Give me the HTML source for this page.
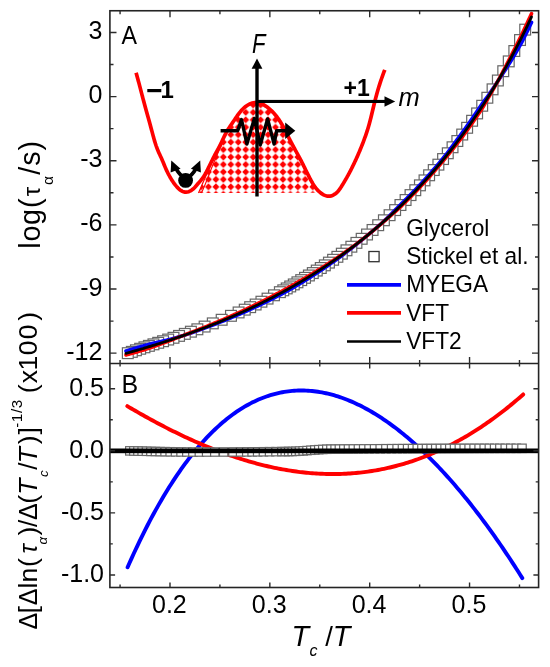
<!DOCTYPE html>
<html><head><meta charset="utf-8"><style>
html,body{margin:0;padding:0;background:#fff;width:550px;height:667px;overflow:hidden;font-family:"Liberation Sans",sans-serif;}
svg{display:block;will-change:transform;}
</style></head><body>
<svg width="550" height="667" viewBox="0 0 550 667">
<rect width="550" height="667" fill="#fff"/>
<defs>
<pattern id="chk" patternUnits="userSpaceOnUse" x="227.08" y="160.78" width="7.45" height="7.45"><polygon points="3.73,0.27 7.18,3.73 3.73,7.18 0.27,3.73" fill="#ff0000"/><circle cx="3.73" cy="3.73" r="2.15" fill="#ff0000"/></pattern>
</defs>
<path d="M198.5,193 L201.5,186 L205,178 L209,168.5 L213.5,158 L218,148.5 L222,141 L222.77,139.58 L223.31,138.41 L223.86,137.24 L224.42,136.08 L224.99,134.93 L225.58,133.79 L226.19,132.66 L226.82,131.54 L227.48,130.43 L228.15,129.33 L228.84,128.25 L229.54,127.17 L230.25,126.09 L230.97,125.02 L231.69,123.95 L232.42,122.89 L233.16,121.82 L233.88,120.76 L234.61,119.69 L235.33,118.62 L236.05,117.55 L236.78,116.48 L237.52,115.43 L238.26,114.38 L239.03,113.34 L239.82,112.33 L240.64,111.33 L241.49,110.36 L242.37,109.42 L243.29,108.5 L244.26,107.62 L245.28,106.78 L246.35,105.97 L247.46,105.23 L248.62,104.55 L249.81,103.94 L251.02,103.43 L252.26,103.02 L253.52,102.72 L254.78,102.54 L256.06,102.5 L257.33,102.6 L258.6,102.84 L259.85,103.19 L261.08,103.63 L262.29,104.15 L263.46,104.74 L264.59,105.38 L265.69,106.06 L266.75,106.79 L267.78,107.56 L268.79,108.36 L269.77,109.2 L270.73,110.06 L271.66,110.95 L272.57,111.86 L273.46,112.8 L274.33,113.76 L275.17,114.74 L275.99,115.74 L276.79,116.75 L277.57,117.79 L278.33,118.83 L279.06,119.9 L279.78,120.97 L280.47,122.06 L281.15,123.16 L281.8,124.26 L282.45,125.38 L283.07,126.5 L283.69,127.63 L284.29,128.77 L284.89,129.91 L285.48,131.06 L286.06,132.21 L286.64,133.37 L287.21,134.52 L287.78,135.68 L288.35,136.83 L288.93,137.99 L289.51,139.14 L290.09,140.29 L290.68,141.44 L291.28,142.58 L291.88,143.72 L292.48,144.86 L293.1,146 L293.71,147.13 L294.33,148.26 L294.95,149.39 L295.57,150.52 L296.2,151.64 L296.82,152.77 L297.44,153.9 L298.06,155.03 L298.67,156.16 L299.29,157.29 L299.89,158.43 L300.5,159.57 L301.09,160.71 L301.68,161.85 L302.27,163 L302.84,164.15 L303.42,165.3 L303.99,166.46 L304.55,167.61 L305.12,168.77 L305.68,169.93 L306.25,171.08 L306.82,172.24 L307.39,173.4 L307.96,174.55 L308.54,175.7 L309.13,176.85 L309.72,177.99 L310.33,179.13 L310.94,180.27 L311.56,181.4 L312.2,182.52 L312.85,183.64 L313.53,184.73 L314.24,185.81 L314.98,186.87 L315.75,187.9 L316.5,192.8 Z" fill="url(#chk)" stroke="none"/>
<path d="M198.5,193 L201.5,186 L205,178 L209,168.5 L213.5,158 L218,148.5 L222,141" fill="none" stroke="#ff0000" stroke-width="1.2"/>
<path d="M201.5,193 L204.3,186.5 L207.6,178.5 L211.2,169 L215.3,159 L219.5,149.5 L223,142" fill="none" stroke="#ff0000" stroke-width="1.1"/>
<path d="M136.1,72.7 L136.45,73.94 L136.79,75.18 L137.13,76.42 L137.47,77.67 L137.81,78.91 L138.14,80.16 L138.48,81.4 L138.81,82.64 L139.14,83.89 L139.47,85.14 L139.79,86.38 L140.12,87.63 L140.45,88.87 L140.77,90.12 L141.1,91.37 L141.42,92.61 L141.75,93.86 L142.07,95.11 L142.4,96.35 L142.72,97.6 L143.05,98.85 L143.38,100.09 L143.71,101.34 L144.04,102.58 L144.38,103.83 L144.71,105.07 L145.05,106.31 L145.39,107.56 L145.73,108.8 L146.07,110.04 L146.42,111.28 L146.77,112.52 L147.12,113.76 L147.47,115 L147.82,116.24 L148.18,117.48 L148.53,118.72 L148.88,119.96 L149.23,121.2 L149.57,122.44 L149.91,123.68 L150.25,124.92 L150.58,126.17 L150.91,127.41 L151.24,128.66 L151.57,129.9 L151.9,131.15 L152.23,132.39 L152.56,133.64 L152.89,134.89 L153.22,136.13 L153.57,137.37 L153.91,138.62 L154.26,139.86 L154.63,141.1 L155,142.33 L155.38,143.56 L155.78,144.79 L156.19,146.01 L156.63,147.22 L157.08,148.43 L157.55,149.63 L158.04,150.82 L158.55,152 L159.08,153.17 L159.62,154.34 L160.16,155.51 L160.71,156.68 L161.24,157.85 L161.77,159.03 L162.28,160.21 L162.78,161.4 L163.27,162.58 L163.76,163.78 L164.25,164.97 L164.74,166.16 L165.24,167.35 L165.75,168.53 L166.27,169.71 L166.81,170.89 L167.37,172.05 L167.95,173.21 L168.55,174.36 L169.16,175.5 L169.79,176.63 L170.43,177.74 L171.09,178.84 L171.76,179.93 L172.44,181 L173.14,182.06 L173.87,183.1 L174.63,184.13 L175.42,185.15 L176.26,186.15 L177.15,187.14 L178.1,188.12 L179.1,189.06 L180.15,189.93 L181.25,190.71 L182.39,191.35 L183.57,191.84 L184.79,192.13 L186.03,192.2 L187.29,192.05 L188.55,191.7 L189.78,191.19 L190.96,190.55 L192.06,189.81 L193.09,189 L194.04,188.12 L194.94,187.2 L195.8,186.25 L196.64,185.28 L197.47,184.3 L198.31,183.32 L199.16,182.34 L199.99,181.36 L200.82,180.37 L201.62,179.36 L202.4,178.33 L203.15,177.29 L203.86,176.22 L204.54,175.13 L205.2,174.02 L205.83,172.89 L206.44,171.75 L207.04,170.61 L207.62,169.46 L208.2,168.3 L208.78,167.15 L209.35,165.99 L209.92,164.84 L210.48,163.68 L211.05,162.52 L211.62,161.36 L212.19,160.21 L212.76,159.06 L213.34,157.91 L213.92,156.76 L214.52,155.62 L215.12,154.48 L215.73,153.35 L216.34,152.22 L216.96,151.09 L217.58,149.96 L218.2,148.82 L218.81,147.69 L219.41,146.55 L220,145.4 L220.57,144.25 L221.13,143.09 L221.68,141.92 L222.22,140.75 L222.77,139.58 L223.31,138.41 L223.86,137.24 L224.42,136.08 L224.99,134.93 L225.58,133.79 L226.19,132.66 L226.82,131.54 L227.48,130.43 L228.15,129.33 L228.84,128.25 L229.54,127.17 L230.25,126.09 L230.97,125.02 L231.69,123.95 L232.42,122.89 L233.16,121.82 L233.88,120.76 L234.61,119.69 L235.33,118.62 L236.05,117.55 L236.78,116.48 L237.52,115.43 L238.26,114.38 L239.03,113.34 L239.82,112.33 L240.64,111.33 L241.49,110.36 L242.37,109.42 L243.29,108.5 L244.26,107.62 L245.28,106.78 L246.35,105.97 L247.46,105.23 L248.62,104.55 L249.81,103.94 L251.02,103.43 L252.26,103.02 L253.52,102.72 L254.78,102.54 L256.06,102.5 L257.33,102.6 L258.6,102.84 L259.85,103.19 L261.08,103.63 L262.29,104.15 L263.46,104.74 L264.59,105.38 L265.69,106.06 L266.75,106.79 L267.78,107.56 L268.79,108.36 L269.77,109.2 L270.73,110.06 L271.66,110.95 L272.57,111.86 L273.46,112.8 L274.33,113.76 L275.17,114.74 L275.99,115.74 L276.79,116.75 L277.57,117.79 L278.33,118.83 L279.06,119.9 L279.78,120.97 L280.47,122.06 L281.15,123.16 L281.8,124.26 L282.45,125.38 L283.07,126.5 L283.69,127.63 L284.29,128.77 L284.89,129.91 L285.48,131.06 L286.06,132.21 L286.64,133.37 L287.21,134.52 L287.78,135.68 L288.35,136.83 L288.93,137.99 L289.51,139.14 L290.09,140.29 L290.68,141.44 L291.28,142.58 L291.88,143.72 L292.48,144.86 L293.1,146 L293.71,147.13 L294.33,148.26 L294.95,149.39 L295.57,150.52 L296.2,151.64 L296.82,152.77 L297.44,153.9 L298.06,155.03 L298.67,156.16 L299.29,157.29 L299.89,158.43 L300.5,159.57 L301.09,160.71 L301.68,161.85 L302.27,163 L302.84,164.15 L303.42,165.3 L303.99,166.46 L304.55,167.61 L305.12,168.77 L305.68,169.93 L306.25,171.08 L306.82,172.24 L307.39,173.4 L307.96,174.55 L308.54,175.7 L309.13,176.85 L309.72,177.99 L310.33,179.13 L310.94,180.27 L311.56,181.4 L312.2,182.52 L312.85,183.64 L313.53,184.73 L314.24,185.81 L314.98,186.87 L315.75,187.9 L316.56,188.91 L317.42,189.88 L318.32,190.82 L319.27,191.72 L320.28,192.59 L321.35,193.4 L322.47,194.15 L323.64,194.82 L324.84,195.38 L326.07,195.81 L327.32,196.09 L328.59,196.2 L329.86,196.13 L331.12,195.86 L332.36,195.44 L333.56,194.88 L334.69,194.21 L335.75,193.44 L336.72,192.6 L337.63,191.68 L338.48,190.71 L339.28,189.69 L340.04,188.64 L340.77,187.56 L341.47,186.46 L342.17,185.36 L342.85,184.25 L343.53,183.14 L344.19,182.03 L344.85,180.92 L345.5,179.8 L346.15,178.68 L346.78,177.56 L347.41,176.44 L348.03,175.31 L348.64,174.18 L349.25,173.05 L349.85,171.92 L350.44,170.78 L351.03,169.64 L351.61,168.49 L352.18,167.34 L352.75,166.19 L353.32,165.04 L353.87,163.88 L354.43,162.72 L354.98,161.55 L355.52,160.39 L356.06,159.22 L356.59,158.04 L357.12,156.87 L357.64,155.69 L358.16,154.51 L358.67,153.32 L359.18,152.14 L359.68,150.95 L360.17,149.76 L360.66,148.56 L361.15,147.37 L361.63,146.17 L362.11,144.97 L362.58,143.77 L363.04,142.57 L363.5,141.36 L363.96,140.15 L364.4,138.94 L364.84,137.73 L365.27,136.52 L365.7,135.3 L366.12,134.08 L366.53,132.86 L366.93,131.64 L367.33,130.41 L367.71,129.18 L368.09,127.95 L368.46,126.72 L368.82,125.48 L369.17,124.24 L369.51,123 L369.84,121.76 L370.17,120.51 L370.49,119.27 L370.81,118.02 L371.12,116.77 L371.42,115.52 L371.72,114.26 L372.02,113.01 L372.32,111.76 L372.62,110.5 L372.92,109.25 L373.21,107.99 L373.51,106.74 L373.81,105.49 L374.12,104.23 L374.43,102.98 L374.74,101.73 L375.06,100.48 L375.38,99.23 L375.71,97.99 L376.04,96.74 L376.38,95.5 L376.72,94.26 L377.06,93.02 L377.42,91.78 L377.77,90.54 L378.14,89.3 L378.51,88.07 L378.88,86.84 L379.26,85.6 L379.65,84.38 L380.04,83.15 L380.44,81.92 L380.85,80.7 L381.26,79.48 L381.68,78.26 L382.1,77.05 L382.53,75.83 L382.97,74.62 L383.42,73.41 L383.87,72.21 L384.33,71 L384.8,69.8" fill="none" stroke="#ff0000" stroke-width="3.7" stroke-linecap="butt"/>
<g fill="#000" stroke="none">
<rect x="255.3" y="67" width="3.4" height="129.5"/>
<polygon points="257,58.6 262.4,68.8 251.6,68.8"/>
<rect x="257" y="99.9" width="128" height="3.1"/>
<polygon points="395.2,101.5 384.5,96.2 384.5,106.8"/>
</g>
<path d="M220.6,130.7 L237.7,130.7 L241.5,119.5 L246.9,144 L254.4,118.5 L260.2,145 L267.6,119 L274.1,144 L276.7,130.7 L286.5,130.7" fill="none" stroke="#000" stroke-width="3.4" stroke-linejoin="round"/>
<polygon points="285.2,122.6 295.3,130.7 285.2,139" fill="#000"/>
<circle cx="185.6" cy="180.4" r="7.4" fill="#000"/>
<path d="M183,177 Q177,172 176,167.5 M189,177 Q195,172 196,167.5" fill="none" stroke="#000" stroke-width="3.6"/>
<polygon points="171.3,160.4 170.6,172.6 180.6,168.8" fill="#000"/>
<polygon points="200.2,160.4 200.9,172.6 190.9,168.8" fill="#000"/>
<text transform="translate(252,52.6) scale(0.8,1)" x="0" y="0" font-family="Liberation Sans" font-style="italic" font-size="27.6">F</text>
<text x="398.6" y="105.6" font-family="Liberation Sans" font-style="italic" font-size="25.5">m</text>
<rect x="147.3" y="89" width="14" height="3.2" fill="#000"/>
<text x="160.5" y="98.2" font-family="Liberation Sans" font-weight="bold" font-size="24">1</text>
<text x="343.5" y="95.6" font-family="Liberation Sans" font-weight="bold" font-size="23">+1</text>
<g fill="#fff" stroke="#666" stroke-width="1.2"><rect x="519.8" y="24.24" width="10.8" height="10.8"/><rect x="514.62" y="34.64" width="10.8" height="10.8"/><rect x="508.93" y="45.62" width="10.8" height="10.8"/><rect x="503.35" y="55.99" width="10.8" height="10.8"/><rect x="497.86" y="65.8" width="10.8" height="10.8"/><rect x="492.47" y="75.1" width="10.8" height="10.8"/><rect x="487.17" y="83.94" width="10.8" height="10.8"/><rect x="481.95" y="92.34" width="10.8" height="10.8"/><rect x="476.8" y="100.36" width="10.8" height="10.8"/><rect x="471.72" y="108.02" width="10.8" height="10.8"/><rect x="466.7" y="115.36" width="10.8" height="10.8"/><rect x="461.73" y="122.39" width="10.8" height="10.8"/><rect x="456.81" y="129.15" width="10.8" height="10.8"/><rect x="451.95" y="135.63" width="10.8" height="10.8"/><rect x="447.14" y="141.87" width="10.8" height="10.8"/><rect x="442.38" y="147.87" width="10.8" height="10.8"/><rect x="437.67" y="153.66" width="10.8" height="10.8"/><rect x="432.99" y="159.25" width="10.8" height="10.8"/><rect x="428.34" y="164.65" width="10.8" height="10.8"/><rect x="423.72" y="169.89" width="10.8" height="10.8"/><rect x="419.12" y="174.98" width="10.8" height="10.8"/><rect x="414.52" y="179.94" width="10.8" height="10.8"/><rect x="409.88" y="184.82" width="10.8" height="10.8"/><rect x="405.12" y="189.7" width="10.8" height="10.8"/><rect x="400.19" y="194.63" width="10.8" height="10.8"/><rect x="395.06" y="199.62" width="10.8" height="10.8"/><rect x="389.72" y="204.69" width="10.8" height="10.8"/><rect x="384.18" y="209.8" width="10.8" height="10.8"/><rect x="378.5" y="214.87" width="10.8" height="10.8"/><rect x="372.81" y="219.81" width="10.8" height="10.8"/><rect x="367.17" y="224.57" width="10.8" height="10.8"/><rect x="361.65" y="229.1" width="10.8" height="10.8"/><rect x="356.27" y="233.39" width="10.8" height="10.8"/><rect x="351.03" y="237.47" width="10.8" height="10.8"/><rect x="345.95" y="241.31" width="10.8" height="10.8"/><rect x="341.08" y="244.92" width="10.8" height="10.8"/><rect x="336.43" y="248.27" width="10.8" height="10.8"/><rect x="331.99" y="251.42" width="10.8" height="10.8"/><rect x="327.7" y="254.38" width="10.8" height="10.8"/><rect x="323.53" y="257.22" width="10.8" height="10.8"/><rect x="319.42" y="259.95" width="10.8" height="10.8"/><rect x="315.37" y="262.6" width="10.8" height="10.8"/><rect x="311.36" y="265.16" width="10.8" height="10.8"/><rect x="307.4" y="267.66" width="10.8" height="10.8"/><rect x="303.49" y="270.08" width="10.8" height="10.8"/><rect x="299.62" y="272.43" width="10.8" height="10.8"/><rect x="295.8" y="274.71" width="10.8" height="10.8"/><rect x="292.05" y="276.91" width="10.8" height="10.8"/><rect x="288.38" y="279.03" width="10.8" height="10.8"/><rect x="284.8" y="281.06" width="10.8" height="10.8"/><rect x="281.31" y="283.02" width="10.8" height="10.8"/><rect x="277.88" y="284.91" width="10.8" height="10.8"/><rect x="274.48" y="286.76" width="10.8" height="10.8"/><rect x="268.58" y="289.89" width="10.8" height="10.8"/><rect x="262.16" y="293.21" width="10.8" height="10.8"/><rect x="256.03" y="296.3" width="10.8" height="10.8"/><rect x="250.25" y="299.13" width="10.8" height="10.8"/><rect x="244.75" y="301.76" width="10.8" height="10.8"/><rect x="239.35" y="304.27" width="10.8" height="10.8"/><rect x="233.21" y="307.06" width="10.8" height="10.8"/><rect x="225.57" y="310.43" width="10.8" height="10.8"/><rect x="216.27" y="314.37" width="10.8" height="10.8"/><rect x="207.39" y="317.97" width="10.8" height="10.8"/><rect x="199.22" y="321.17" width="10.8" height="10.8"/><rect x="191.97" y="323.91" width="10.8" height="10.8"/><rect x="185.5" y="326.29" width="10.8" height="10.8"/><rect x="179.42" y="328.46" width="10.8" height="10.8"/><rect x="173.64" y="330.48" width="10.8" height="10.8"/><rect x="168.09" y="332.37" width="10.8" height="10.8"/><rect x="162.77" y="334.15" width="10.8" height="10.8"/><rect x="157.67" y="335.82" width="10.8" height="10.8"/><rect x="152.78" y="337.39" width="10.8" height="10.8"/><rect x="148.06" y="338.93" width="10.8" height="10.8"/><rect x="143.5" y="340.44" width="10.8" height="10.8"/><rect x="139.06" y="341.91" width="10.8" height="10.8"/><rect x="134.75" y="343.34" width="10.8" height="10.8"/><rect x="130.54" y="344.88" width="10.8" height="10.8"/><rect x="126.43" y="346.46" width="10.8" height="10.8"/><rect x="122.4" y="347.78" width="10.8" height="10.8"/></g>
<path d="M126,351.08 L127.36,350.64 L128.71,350.21 L130.07,349.79 L131.42,349.37 L132.78,348.96 L134.14,348.54 L135.49,348.14 L136.85,347.73 L138.21,347.33 L139.56,346.93 L140.92,346.53 L142.27,346.13 L143.63,345.74 L144.99,345.36 L146.34,344.99 L147.7,344.64 L149.06,344.29 L150.41,343.95 L151.77,343.62 L153.12,343.3 L154.48,342.98 L155.84,342.66 L157.19,342.35 L158.55,342.04 L159.9,341.73 L161.26,341.42 L162.62,341.11 L163.97,340.79 L165.33,340.47 L166.69,340.14 L168.04,339.81 L169.4,339.47 L170.75,339.13 L172.11,338.77 L173.47,338.4 L174.82,338.02 L176.18,337.63 L177.54,337.24 L178.89,336.84 L180.25,336.44 L181.6,336.04 L182.96,335.63 L184.32,335.21 L185.67,334.79 L187.03,334.35 L188.38,333.91 L189.74,333.46 L191.1,333 L192.45,332.54 L193.81,332.07 L195.17,331.59 L196.52,331.11 L197.88,330.63 L199.23,330.15 L200.59,329.65 L201.95,329.16 L203.3,328.66 L204.66,328.16 L206.02,327.65 L207.37,327.14 L208.73,326.63 L210.08,326.11 L211.44,325.59 L212.8,325.07 L214.15,324.54 L215.51,324.01 L216.86,323.48 L218.22,322.94 L219.58,322.4 L220.93,321.86 L222.29,321.32 L223.65,320.77 L225,320.22 L226.36,319.67 L227.71,319.11 L229.07,318.55 L230.43,317.99 L231.78,317.43 L233.14,316.86 L234.49,316.29 L235.85,315.72 L237.21,315.15 L238.56,314.57 L239.92,313.99 L241.28,313.41 L242.63,312.82 L243.99,312.23 L245.34,311.63 L246.7,311.03 L248.06,310.43 L249.41,309.82 L250.77,309.21 L252.13,308.6 L253.48,307.98 L254.84,307.35 L256.19,306.72 L257.55,306.08 L258.91,305.44 L260.26,304.8 L261.62,304.15 L262.97,303.49 L264.33,302.84 L265.69,302.18 L267.04,301.51 L268.4,300.84 L269.76,300.17 L271.11,299.49 L272.47,298.81 L273.82,298.12 L275.18,297.42 L276.54,296.72 L277.89,296.02 L279.25,295.31 L280.61,294.6 L281.96,293.88 L283.32,293.15 L284.67,292.41 L286.03,291.68 L287.39,290.93 L288.74,290.18 L290.1,289.42 L291.45,288.65 L292.81,287.88 L294.17,287.09 L295.52,286.31 L296.88,285.51 L298.24,284.71 L299.59,283.9 L300.95,283.08 L302.3,282.26 L303.66,281.43 L305.02,280.59 L306.37,279.75 L307.73,278.9 L309.09,278.04 L310.44,277.18 L311.8,276.32 L313.15,275.45 L314.51,274.57 L315.87,273.69 L317.22,272.8 L318.58,271.91 L319.93,271.01 L321.29,270.11 L322.65,269.2 L324,268.28 L325.36,267.35 L326.72,266.42 L328.07,265.49 L329.43,264.54 L330.78,263.59 L332.14,262.63 L333.5,261.67 L334.85,260.69 L336.21,259.72 L337.57,258.73 L338.92,257.74 L340.28,256.74 L341.63,255.74 L342.99,254.73 L344.35,253.71 L345.7,252.68 L347.06,251.65 L348.41,250.62 L349.77,249.57 L351.13,248.52 L352.48,247.47 L353.84,246.41 L355.2,245.34 L356.55,244.26 L357.91,243.18 L359.26,242.09 L360.62,241 L361.98,239.9 L363.33,238.79 L364.69,237.68 L366.05,236.57 L367.4,235.44 L368.76,234.31 L370.11,233.18 L371.47,232.04 L372.83,230.89 L374.18,229.73 L375.54,228.57 L376.89,227.4 L378.25,226.22 L379.61,225.02 L380.96,223.82 L382.32,222.61 L383.68,221.38 L385.03,220.14 L386.39,218.88 L387.74,217.57 L389.1,216.23 L390.46,214.87 L391.81,213.49 L393.17,212.1 L394.53,210.7 L395.88,209.31 L397.24,207.93 L398.59,206.56 L399.95,205.22 L401.31,203.89 L402.66,202.55 L404.02,201.21 L405.37,199.85 L406.73,198.49 L408.09,197.12 L409.44,195.75 L410.8,194.36 L412.16,192.96 L413.51,191.56 L414.87,190.14 L416.22,188.72 L417.58,187.29 L418.94,185.84 L420.29,184.39 L421.65,182.92 L423.01,181.45 L424.36,179.96 L425.72,178.46 L427.07,176.95 L428.43,175.43 L429.79,173.9 L431.14,172.36 L432.5,170.8 L433.85,169.23 L435.21,167.65 L436.57,166.05 L437.92,164.45 L439.28,162.83 L440.64,161.19 L441.99,159.54 L443.35,157.88 L444.7,156.2 L446.06,154.5 L447.42,152.75 L448.77,150.97 L450.13,149.15 L451.48,147.32 L452.84,145.47 L454.2,143.61 L455.55,141.75 L456.91,139.9 L458.27,138.06 L459.62,136.22 L460.98,134.37 L462.33,132.5 L463.69,130.62 L465.05,128.73 L466.4,126.82 L467.76,124.9 L469.12,122.97 L470.47,121.02 L471.83,119.06 L473.18,117.08 L474.54,115.1 L475.9,113.09 L477.25,111.07 L478.61,109.04 L479.96,107 L481.32,105 L482.68,103.09 L484.03,101.23 L485.39,99.41 L486.75,97.58 L488.1,95.71 L489.46,93.77 L490.81,91.79 L492.17,89.78 L493.53,87.76 L494.88,85.72 L496.24,83.66 L497.6,81.61 L498.95,79.55 L500.31,77.49 L501.66,75.43 L503.02,73.36 L504.38,71.28 L505.73,69.18 L507.09,67.05 L508.44,64.9 L509.8,62.72 L511.16,60.5 L512.51,58.24 L513.87,55.97 L515.23,53.7 L516.58,51.41 L517.94,49.09 L519.29,46.72 L520.65,44.3 L522.01,41.79 L523.36,39.21 L524.72,36.52 L526.08,33.75 L527.43,30.94 L528.79,28.11 L530.14,25.26 L531.5,22.37" fill="none" stroke="#0000ff" stroke-width="3.6" stroke-linecap="round"/>
<path d="M126,354.98 L127.36,354.6 L128.71,354.22 L130.07,353.84 L131.42,353.46 L132.78,353.07 L134.14,352.69 L135.49,352.3 L136.85,351.91 L138.21,351.52 L139.56,351.12 L140.92,350.73 L142.27,350.33 L143.63,349.92 L144.99,349.5 L146.34,349.07 L147.7,348.63 L149.06,348.18 L150.41,347.72 L151.77,347.26 L153.12,346.79 L154.48,346.31 L155.84,345.82 L157.19,345.33 L158.55,344.83 L159.9,344.33 L161.26,343.82 L162.62,343.32 L163.97,342.8 L165.33,342.29 L166.69,341.77 L168.04,341.26 L169.4,340.74 L170.75,340.23 L172.11,339.71 L173.47,339.2 L174.82,338.68 L176.18,338.17 L177.54,337.66 L178.89,337.15 L180.25,336.63 L181.6,336.11 L182.96,335.58 L184.32,335.06 L185.67,334.54 L187.03,334.02 L188.38,333.49 L189.74,332.97 L191.1,332.45 L192.45,331.93 L193.81,331.41 L195.17,330.88 L196.52,330.35 L197.88,329.82 L199.23,329.29 L200.59,328.76 L201.95,328.22 L203.3,327.68 L204.66,327.14 L206.02,326.6 L207.37,326.05 L208.73,325.51 L210.08,324.95 L211.44,324.4 L212.8,323.84 L214.15,323.28 L215.51,322.72 L216.86,322.16 L218.22,321.59 L219.58,321.02 L220.93,320.44 L222.29,319.87 L223.65,319.29 L225,318.7 L226.36,318.11 L227.71,317.52 L229.07,316.93 L230.43,316.33 L231.78,315.73 L233.14,315.12 L234.49,314.51 L235.85,313.9 L237.21,313.28 L238.56,312.66 L239.92,312.04 L241.28,311.41 L242.63,310.78 L243.99,310.15 L245.34,309.51 L246.7,308.87 L248.06,308.22 L249.41,307.58 L250.77,306.93 L252.13,306.27 L253.48,305.62 L254.84,304.96 L256.19,304.3 L257.55,303.63 L258.91,302.96 L260.26,302.29 L261.62,301.62 L262.97,300.94 L264.33,300.26 L265.69,299.57 L267.04,298.88 L268.4,298.19 L269.76,297.49 L271.11,296.79 L272.47,296.08 L273.82,295.37 L275.18,294.65 L276.54,293.94 L277.89,293.21 L279.25,292.49 L280.61,291.75 L281.96,291.02 L283.32,290.28 L284.67,289.53 L286.03,288.79 L287.39,288.03 L288.74,287.28 L290.1,286.52 L291.45,285.75 L292.81,284.99 L294.17,284.22 L295.52,283.45 L296.88,282.68 L298.24,281.9 L299.59,281.12 L300.95,280.34 L302.3,279.55 L303.66,278.76 L305.02,277.97 L306.37,277.17 L307.73,276.37 L309.09,275.56 L310.44,274.75 L311.8,273.93 L313.15,273.11 L314.51,272.28 L315.87,271.44 L317.22,270.6 L318.58,269.76 L319.93,268.91 L321.29,268.05 L322.65,267.19 L324,266.32 L325.36,265.45 L326.72,264.58 L328.07,263.7 L329.43,262.81 L330.78,261.92 L332.14,261.03 L333.5,260.13 L334.85,259.22 L336.21,258.31 L337.57,257.39 L338.92,256.47 L340.28,255.54 L341.63,254.61 L342.99,253.66 L344.35,252.71 L345.7,251.76 L347.06,250.8 L348.41,249.83 L349.77,248.85 L351.13,247.86 L352.48,246.87 L353.84,245.87 L355.2,244.87 L356.55,243.85 L357.91,242.82 L359.26,241.79 L360.62,240.75 L361.98,239.7 L363.33,238.64 L364.69,237.57 L366.05,236.5 L367.4,235.41 L368.76,234.31 L370.11,233.21 L371.47,232.09 L372.83,230.97 L374.18,229.84 L375.54,228.7 L376.89,227.56 L378.25,226.4 L379.61,225.24 L380.96,224.08 L382.32,222.91 L383.68,221.73 L385.03,220.54 L386.39,219.36 L387.74,218.19 L389.1,217.02 L390.46,215.85 L391.81,214.68 L393.17,213.5 L394.53,212.31 L395.88,211.11 L397.24,209.88 L398.59,208.64 L399.95,207.37 L401.31,206.08 L402.66,204.77 L404.02,203.46 L405.37,202.14 L406.73,200.8 L408.09,199.45 L409.44,198.1 L410.8,196.73 L412.16,195.35 L413.51,193.96 L414.87,192.56 L416.22,191.15 L417.58,189.73 L418.94,188.29 L420.29,186.85 L421.65,185.39 L423.01,183.93 L424.36,182.45 L425.72,180.96 L427.07,179.47 L428.43,177.96 L429.79,176.44 L431.14,174.9 L432.5,173.36 L433.85,171.81 L435.21,170.25 L436.57,168.67 L437.92,167.09 L439.28,165.49 L440.64,163.88 L441.99,162.26 L443.35,160.63 L444.7,158.99 L446.06,157.34 L447.42,155.7 L448.77,154.05 L450.13,152.4 L451.48,150.73 L452.84,149.06 L454.2,147.37 L455.55,145.66 L456.91,143.93 L458.27,142.18 L459.62,140.4 L460.98,138.61 L462.33,136.81 L463.69,134.99 L465.05,133.16 L466.4,131.31 L467.76,129.44 L469.12,127.56 L470.47,125.66 L471.83,123.74 L473.18,121.8 L474.54,119.84 L475.9,117.86 L477.25,115.86 L478.61,113.84 L479.96,111.8 L481.32,109.69 L482.68,107.49 L484.03,105.21 L485.39,102.89 L486.75,100.53 L488.1,98.18 L489.46,95.84 L490.81,93.5 L492.17,91.15 L493.53,88.77 L494.88,86.38 L496.24,83.96 L497.6,81.52 L498.95,79.05 L500.31,76.55 L501.66,74.02 L503.02,71.47 L504.38,68.89 L505.73,66.29 L507.09,63.67 L508.44,61.04 L509.8,58.4 L511.16,55.75 L512.51,53.09 L513.87,50.42 L515.23,47.73 L516.58,45.03 L517.94,42.31 L519.29,39.57 L520.65,36.8 L522.01,34.01 L523.36,31.19 L524.72,28.34 L526.08,25.46 L527.43,22.56 L528.79,19.62 L530.14,16.66 L531.5,13.67" fill="none" stroke="#ff0000" stroke-width="3.6" stroke-linecap="round"/>
<path d="M126,353.38 L127.36,353 L128.71,352.62 L130.07,352.24 L131.42,351.86 L132.78,351.47 L134.14,351.09 L135.49,350.7 L136.85,350.31 L138.21,349.92 L139.56,349.52 L140.92,349.13 L142.27,348.73 L143.63,348.33 L144.99,347.92 L146.34,347.52 L147.7,347.11 L149.06,346.7 L150.41,346.29 L151.77,345.87 L153.12,345.45 L154.48,345.04 L155.84,344.61 L157.19,344.19 L158.55,343.76 L159.9,343.34 L161.26,342.9 L162.62,342.47 L163.97,342.04 L165.33,341.6 L166.69,341.16 L168.04,340.71 L169.4,340.27 L170.75,339.82 L172.11,339.37 L173.47,338.91 L174.82,338.46 L176.18,338 L177.54,337.54 L178.89,337.08 L180.25,336.61 L181.6,336.14 L182.96,335.67 L184.32,335.19 L185.67,334.72 L187.03,334.24 L188.38,333.75 L189.74,333.27 L191.1,332.78 L192.45,332.29 L193.81,331.79 L195.17,331.3 L196.52,330.8 L197.88,330.29 L199.23,329.79 L200.59,329.28 L201.95,328.77 L203.3,328.25 L204.66,327.73 L206.02,327.21 L207.37,326.69 L208.73,326.16 L210.08,325.63 L211.44,325.1 L212.8,324.56 L214.15,324.02 L215.51,323.48 L216.86,322.93 L218.22,322.38 L219.58,321.83 L220.93,321.27 L222.29,320.71 L223.65,320.15 L225,319.58 L226.36,319.01 L227.71,318.44 L229.07,317.87 L230.43,317.29 L231.78,316.7 L233.14,316.11 L234.49,315.52 L235.85,314.93 L237.21,314.33 L238.56,313.73 L239.92,313.13 L241.28,312.52 L242.63,311.91 L243.99,311.29 L245.34,310.67 L246.7,310.05 L248.06,309.42 L249.41,308.79 L250.77,308.15 L252.13,307.51 L253.48,306.87 L254.84,306.22 L256.19,305.57 L257.55,304.92 L258.91,304.26 L260.26,303.59 L261.62,302.93 L262.97,302.26 L264.33,301.58 L265.69,300.9 L267.04,300.22 L268.4,299.53 L269.76,298.84 L271.11,298.14 L272.47,297.44 L273.82,296.73 L275.18,296.02 L276.54,295.31 L277.89,294.59 L279.25,293.87 L280.61,293.14 L281.96,292.41 L283.32,291.67 L284.67,290.93 L286.03,290.18 L287.39,289.43 L288.74,288.68 L290.1,287.92 L291.45,287.15 L292.81,286.38 L294.17,285.61 L295.52,284.83 L296.88,284.04 L298.24,283.25 L299.59,282.46 L300.95,281.66 L302.3,280.85 L303.66,280.04 L305.02,279.23 L306.37,278.41 L307.73,277.58 L309.09,276.75 L310.44,275.91 L311.8,275.07 L313.15,274.23 L314.51,273.37 L315.87,272.52 L317.22,271.65 L318.58,270.78 L319.93,269.91 L321.29,269.03 L322.65,268.14 L324,267.25 L325.36,266.35 L326.72,265.45 L328.07,264.54 L329.43,263.62 L330.78,262.7 L332.14,261.77 L333.5,260.84 L334.85,259.9 L336.21,258.96 L337.57,258 L338.92,257.05 L340.28,256.08 L341.63,255.11 L342.99,254.13 L344.35,253.15 L345.7,252.16 L347.06,251.16 L348.41,250.16 L349.77,249.15 L351.13,248.13 L352.48,247.11 L353.84,246.08 L355.2,245.04 L356.55,243.99 L357.91,242.94 L359.26,241.88 L360.62,240.82 L361.98,239.75 L363.33,238.66 L364.69,237.58 L366.05,236.48 L367.4,235.38 L368.76,234.27 L370.11,233.15 L371.47,232.03 L372.83,230.9 L374.18,229.75 L375.54,228.61 L376.89,227.45 L378.25,226.29 L379.61,225.11 L380.96,223.93 L382.32,222.75 L383.68,221.55 L385.03,220.34 L386.39,219.13 L387.74,217.91 L389.1,216.68 L390.46,215.44 L391.81,214.19 L393.17,212.93 L394.53,211.67 L395.88,210.39 L397.24,209.11 L398.59,207.82 L399.95,206.52 L401.31,205.21 L402.66,203.89 L404.02,202.56 L405.37,201.22 L406.73,199.87 L408.09,198.51 L409.44,197.14 L410.8,195.76 L412.16,194.38 L413.51,192.98 L414.87,191.57 L416.22,190.15 L417.58,188.72 L418.94,187.28 L420.29,185.83 L421.65,184.37 L423.01,182.9 L424.36,181.42 L425.72,179.92 L427.07,178.42 L428.43,176.9 L429.79,175.38 L431.14,173.84 L432.5,172.29 L433.85,170.73 L435.21,169.15 L436.57,167.57 L437.92,165.97 L439.28,164.36 L440.64,162.74 L441.99,161.1 L443.35,159.46 L444.7,157.8 L446.06,156.12 L447.42,154.44 L448.77,152.74 L450.13,151.03 L451.48,149.3 L452.84,147.56 L454.2,145.81 L455.55,144.04 L456.91,142.26 L458.27,140.47 L459.62,138.66 L460.98,136.84 L462.33,135 L463.69,133.15 L465.05,131.28 L466.4,129.4 L467.76,127.5 L469.12,125.59 L470.47,123.66 L471.83,121.71 L473.18,119.75 L474.54,117.77 L475.9,115.78 L477.25,113.77 L478.61,111.74 L479.96,109.7 L481.32,107.64 L482.68,105.56 L484.03,103.46 L485.39,101.35 L486.75,99.21 L488.1,97.06 L489.46,94.89 L490.81,92.71 L492.17,90.5 L493.53,88.27 L494.88,86.03 L496.24,83.76 L497.6,81.48 L498.95,79.17 L500.31,76.84 L501.66,74.5 L503.02,72.13 L504.38,69.74 L505.73,67.33 L507.09,64.9 L508.44,62.44 L509.8,59.96 L511.16,57.46 L512.51,54.94 L513.87,52.39 L515.23,49.82 L516.58,47.22 L517.94,44.6 L519.29,41.96 L520.65,39.29 L522.01,36.59 L523.36,33.87 L524.72,31.12 L526.08,28.35 L527.43,25.54 L528.79,22.71 L530.14,19.86 L531.5,16.97" fill="none" stroke="#000" stroke-width="2.8" stroke-linecap="round"/>
<path d="M127.6,567.29 L129.58,562.81 L131.57,558.39 L133.55,554.05 L135.53,549.77 L137.52,545.56 L139.5,541.42 L141.48,537.34 L143.47,533.33 L145.45,529.39 L147.43,525.51 L149.42,521.7 L151.4,517.95 L153.38,514.27 L155.37,510.65 L157.35,507.1 L159.33,503.6 L161.32,500.17 L163.3,496.8 L165.28,493.5 L167.27,490.25 L169.25,487.06 L171.24,483.94 L173.22,480.87 L175.2,477.86 L177.19,474.92 L179.17,472.03 L181.15,469.19 L183.14,466.42 L185.12,463.7 L187.1,461.04 L189.09,458.43 L191.07,455.88 L193.05,453.39 L195.04,450.95 L197.02,448.57 L199,446.24 L200.99,443.96 L202.97,441.74 L204.95,439.57 L206.94,437.45 L208.92,435.38 L210.9,433.37 L212.89,431.4 L214.87,429.49 L216.85,427.63 L218.84,425.82 L220.82,424.06 L222.8,422.35 L224.79,420.69 L226.77,419.07 L228.75,417.51 L230.74,415.99 L232.72,414.52 L234.7,413.1 L236.69,411.72 L238.67,410.39 L240.65,409.11 L242.64,407.87 L244.62,406.68 L246.61,405.53 L248.59,404.43 L250.57,403.37 L252.56,402.36 L254.54,401.39 L256.52,400.47 L258.51,399.59 L260.49,398.75 L262.47,397.95 L264.46,397.2 L266.44,396.48 L268.42,395.81 L270.41,395.19 L272.39,394.6 L274.37,394.05 L276.36,393.54 L278.34,393.08 L280.32,392.65 L282.31,392.26 L284.29,391.92 L286.27,391.61 L288.26,391.34 L290.24,391.11 L292.22,390.91 L294.21,390.76 L296.19,390.64 L298.17,390.56 L300.16,390.52 L302.14,390.51 L304.12,390.54 L306.11,390.61 L308.09,390.72 L310.07,390.85 L312.06,391.03 L314.04,391.24 L316.02,391.49 L318.01,391.77 L319.99,392.08 L321.97,392.43 L323.96,392.82 L325.94,393.23 L327.93,393.69 L329.91,394.17 L331.89,394.69 L333.88,395.24 L335.86,395.83 L337.84,396.45 L339.83,397.1 L341.81,397.78 L343.79,398.5 L345.78,399.24 L347.76,400.02 L349.74,400.83 L351.73,401.67 L353.71,402.55 L355.69,403.45 L357.68,404.39 L359.66,405.35 L361.64,406.35 L363.63,407.37 L365.61,408.43 L367.59,409.52 L369.58,410.63 L371.56,411.78 L373.54,412.96 L375.53,414.16 L377.51,415.4 L379.49,416.66 L381.48,417.95 L383.46,419.27 L385.44,420.62 L387.43,422 L389.41,423.41 L391.39,424.84 L393.38,426.31 L395.36,427.8 L397.34,429.32 L399.33,430.87 L401.31,432.44 L403.29,434.04 L405.28,435.67 L407.26,437.33 L409.25,439.01 L411.23,440.73 L413.21,442.46 L415.2,444.23 L417.18,446.02 L419.16,447.84 L421.15,449.69 L423.13,451.56 L425.11,453.46 L427.1,455.38 L429.08,457.34 L431.06,459.31 L433.05,461.32 L435.03,463.35 L437.01,465.41 L439,467.49 L440.98,469.6 L442.96,471.73 L444.95,473.89 L446.93,476.08 L448.91,478.29 L450.9,480.53 L452.88,482.79 L454.86,485.08 L456.85,487.4 L458.83,489.74 L460.81,492.1 L462.8,494.49 L464.78,496.91 L466.76,499.35 L468.75,501.82 L470.73,504.31 L472.71,506.83 L474.7,509.38 L476.68,511.95 L478.66,514.54 L480.65,517.16 L482.63,519.81 L484.62,522.48 L486.6,525.18 L488.58,527.9 L490.57,530.65 L492.55,533.42 L494.53,536.22 L496.52,539.04 L498.5,541.89 L500.48,544.77 L502.47,547.67 L504.45,550.6 L506.43,553.55 L508.42,556.53 L510.4,559.53 L512.38,562.56 L514.37,565.62 L516.35,568.7 L518.33,571.81 L520.32,574.94 L522.3,578.1" fill="none" stroke="#0000ff" stroke-width="3.9" stroke-linecap="round"/>
<path d="M127.3,406.13 L129.29,407.31 L131.28,408.48 L133.27,409.64 L135.26,410.79 L137.25,411.93 L139.24,413.07 L141.23,414.2 L143.22,415.32 L145.21,416.43 L147.19,417.54 L149.18,418.63 L151.17,419.72 L153.16,420.8 L155.15,421.87 L157.14,422.94 L159.13,423.99 L161.12,425.04 L163.11,426.08 L165.1,427.11 L167.09,428.12 L169.08,429.14 L171.07,430.14 L173.06,431.13 L175.05,432.11 L177.04,433.09 L179.03,434.05 L181.02,435.01 L183,435.95 L184.99,436.89 L186.98,437.81 L188.97,438.73 L190.96,439.64 L192.95,440.53 L194.94,441.42 L196.93,442.3 L198.92,443.16 L200.91,444.02 L202.9,444.87 L204.89,445.7 L206.88,446.53 L208.87,447.34 L210.86,448.15 L212.85,448.94 L214.84,449.72 L216.83,450.49 L218.81,451.25 L220.8,452 L222.79,452.74 L224.78,453.47 L226.77,454.18 L228.76,454.89 L230.75,455.58 L232.74,456.26 L234.73,456.93 L236.72,457.59 L238.71,458.24 L240.7,458.87 L242.69,459.5 L244.68,460.11 L246.67,460.71 L248.66,461.29 L250.65,461.87 L252.64,462.43 L254.62,462.98 L256.61,463.52 L258.6,464.04 L260.59,464.55 L262.58,465.05 L264.57,465.54 L266.56,466.02 L268.55,466.48 L270.54,466.93 L272.53,467.36 L274.52,467.79 L276.51,468.2 L278.5,468.59 L280.49,468.97 L282.48,469.34 L284.47,469.7 L286.46,470.04 L288.45,470.37 L290.43,470.69 L292.42,470.99 L294.41,471.28 L296.4,471.55 L298.39,471.81 L300.38,472.06 L302.37,472.29 L304.36,472.51 L306.35,472.71 L308.34,472.9 L310.33,473.08 L312.32,473.24 L314.31,473.38 L316.3,473.51 L318.29,473.63 L320.28,473.73 L322.27,473.82 L324.26,473.89 L326.24,473.95 L328.23,473.99 L330.22,474.02 L332.21,474.03 L334.2,474.03 L336.19,474.01 L338.18,473.98 L340.17,473.93 L342.16,473.86 L344.15,473.78 L346.14,473.68 L348.13,473.57 L350.12,473.45 L352.11,473.3 L354.1,473.14 L356.09,472.97 L358.08,472.78 L360.07,472.57 L362.05,472.34 L364.04,472.1 L366.03,471.85 L368.02,471.58 L370.01,471.29 L372,470.98 L373.99,470.66 L375.98,470.32 L377.97,469.96 L379.96,469.59 L381.95,469.2 L383.94,468.8 L385.93,468.37 L387.92,467.93 L389.91,467.48 L391.9,467 L393.89,466.51 L395.88,466 L397.86,465.47 L399.85,464.93 L401.84,464.37 L403.83,463.79 L405.82,463.19 L407.81,462.58 L409.8,461.94 L411.79,461.29 L413.78,460.63 L415.77,459.94 L417.76,459.23 L419.75,458.51 L421.74,457.77 L423.73,457.01 L425.72,456.24 L427.71,455.44 L429.7,454.63 L431.69,453.79 L433.67,452.94 L435.66,452.07 L437.65,451.19 L439.64,450.28 L441.63,449.35 L443.62,448.41 L445.61,447.44 L447.6,446.46 L449.59,445.46 L451.58,444.44 L453.57,443.4 L455.56,442.34 L457.55,441.26 L459.54,440.16 L461.53,439.05 L463.52,437.91 L465.51,436.75 L467.5,435.58 L469.48,434.38 L471.47,433.17 L473.46,431.93 L475.45,430.68 L477.44,429.4 L479.43,428.11 L481.42,426.79 L483.41,425.46 L485.4,424.1 L487.39,422.73 L489.38,421.33 L491.37,419.91 L493.36,418.48 L495.35,417.02 L497.34,415.54 L499.33,414.04 L501.32,412.53 L503.31,410.99 L505.29,409.43 L507.28,407.85 L509.27,406.24 L511.26,404.62 L513.25,402.98 L515.24,401.31 L517.23,399.63 L519.22,397.92 L521.21,396.19 L523.2,394.44" fill="none" stroke="#ff0000" stroke-width="3.9" stroke-linecap="round"/>
<g fill="#fff" stroke="#666" stroke-width="1.2"><rect x="125.6" y="446.67" width="8.4" height="8.4"/><rect x="129.63" y="446.78" width="8.4" height="8.4"/><rect x="133.74" y="446.89" width="8.4" height="8.4"/><rect x="137.95" y="446.99" width="8.4" height="8.4"/><rect x="142.26" y="447.09" width="8.4" height="8.4"/><rect x="146.7" y="447.2" width="8.4" height="8.4"/><rect x="151.26" y="447.29" width="8.4" height="8.4"/><rect x="155.98" y="447.39" width="8.4" height="8.4"/><rect x="160.87" y="447.48" width="8.4" height="8.4"/><rect x="165.97" y="447.56" width="8.4" height="8.4"/><rect x="171.29" y="447.63" width="8.4" height="8.4"/><rect x="176.84" y="447.7" width="8.4" height="8.4"/><rect x="182.62" y="447.75" width="8.4" height="8.4"/><rect x="188.7" y="447.79" width="8.4" height="8.4"/><rect x="195.17" y="447.8" width="8.4" height="8.4"/><rect x="202.42" y="447.8" width="8.4" height="8.4"/><rect x="210.59" y="447.79" width="8.4" height="8.4"/><rect x="219.47" y="447.77" width="8.4" height="8.4"/><rect x="228.77" y="447.73" width="8.4" height="8.4"/><rect x="236.41" y="447.7" width="8.4" height="8.4"/><rect x="242.55" y="447.67" width="8.4" height="8.4"/><rect x="247.95" y="447.63" width="8.4" height="8.4"/><rect x="253.45" y="447.6" width="8.4" height="8.4"/><rect x="259.23" y="447.55" width="8.4" height="8.4"/><rect x="265.36" y="447.5" width="8.4" height="8.4"/><rect x="271.78" y="447.45" width="8.4" height="8.4"/><rect x="277.68" y="447.39" width="8.4" height="8.4"/><rect x="281.08" y="447.35" width="8.4" height="8.4"/><rect x="284.51" y="447.31" width="8.4" height="8.4"/><rect x="288" y="447.26" width="8.4" height="8.4"/><rect x="291.58" y="447.13" width="8.4" height="8.4"/><rect x="295.25" y="446.93" width="8.4" height="8.4"/><rect x="299" y="446.68" width="8.4" height="8.4"/><rect x="302.82" y="446.38" width="8.4" height="8.4"/><rect x="306.69" y="446.07" width="8.4" height="8.4"/><rect x="310.6" y="445.76" width="8.4" height="8.4"/><rect x="314.56" y="445.47" width="8.4" height="8.4"/><rect x="318.57" y="445.23" width="8.4" height="8.4"/><rect x="322.62" y="445.07" width="8.4" height="8.4"/><rect x="326.73" y="444.99" width="8.4" height="8.4"/><rect x="330.9" y="444.95" width="8.4" height="8.4"/><rect x="335.19" y="444.91" width="8.4" height="8.4"/><rect x="339.63" y="444.87" width="8.4" height="8.4"/><rect x="344.28" y="444.83" width="8.4" height="8.4"/><rect x="349.15" y="444.79" width="8.4" height="8.4"/><rect x="354.23" y="444.74" width="8.4" height="8.4"/><rect x="359.47" y="444.7" width="8.4" height="8.4"/><rect x="364.85" y="444.66" width="8.4" height="8.4"/><rect x="370.37" y="444.62" width="8.4" height="8.4"/><rect x="376.01" y="444.58" width="8.4" height="8.4"/><rect x="381.7" y="444.54" width="8.4" height="8.4"/><rect x="387.38" y="444.51" width="8.4" height="8.4"/><rect x="392.92" y="444.47" width="8.4" height="8.4"/><rect x="398.26" y="444.44" width="8.4" height="8.4"/><rect x="403.39" y="444.42" width="8.4" height="8.4"/><rect x="408.32" y="444.39" width="8.4" height="8.4"/><rect x="413.08" y="444.37" width="8.4" height="8.4"/><rect x="417.72" y="444.35" width="8.4" height="8.4"/><rect x="422.32" y="444.33" width="8.4" height="8.4"/><rect x="426.92" y="444.31" width="8.4" height="8.4"/><rect x="431.54" y="444.29" width="8.4" height="8.4"/><rect x="436.19" y="444.27" width="8.4" height="8.4"/><rect x="440.87" y="444.25" width="8.4" height="8.4"/><rect x="445.58" y="444.24" width="8.4" height="8.4"/><rect x="450.34" y="444.22" width="8.4" height="8.4"/><rect x="455.15" y="444.21" width="8.4" height="8.4"/><rect x="460.01" y="444.19" width="8.4" height="8.4"/><rect x="464.93" y="444.18" width="8.4" height="8.4"/><rect x="469.9" y="444.17" width="8.4" height="8.4"/><rect x="474.92" y="444.16" width="8.4" height="8.4"/><rect x="480" y="444.15" width="8.4" height="8.4"/><rect x="485.15" y="444.14" width="8.4" height="8.4"/><rect x="490.37" y="444.13" width="8.4" height="8.4"/><rect x="495.67" y="444.12" width="8.4" height="8.4"/><rect x="501.06" y="444.12" width="8.4" height="8.4"/><rect x="506.55" y="444.11" width="8.4" height="8.4"/><rect x="512.13" y="444.11" width="8.4" height="8.4"/><rect x="517.82" y="444.1" width="8.4" height="8.4"/></g>
<rect x="109.9" y="448.5" width="428.70000000000005" height="4.7" fill="#000"/>
<rect x="109.9" y="10.75" width="428.7" height="576.75" fill="none" stroke="#242424" stroke-width="1.6"/>
<line x1="109.9" y1="363.5" x2="538.6" y2="363.5" stroke="#242424" stroke-width="1.6"/>
<path d="M120.07,10.75 V14.25 M120.07,363.5 V360 M120.07,363.5 V366.4 M120.07,587.5 V584.6 M170,10.75 V17.15 M170,363.5 V357.1 M170,363.5 V368.6 M170,587.5 V582.4 M219.92,10.75 V14.25 M219.92,363.5 V360 M219.92,363.5 V366.4 M219.92,587.5 V584.6 M269.85,10.75 V17.15 M269.85,363.5 V357.1 M269.85,363.5 V368.6 M269.85,587.5 V582.4 M319.77,10.75 V14.25 M319.77,363.5 V360 M319.77,363.5 V366.4 M319.77,587.5 V584.6 M369.7,10.75 V17.15 M369.7,363.5 V357.1 M369.7,363.5 V368.6 M369.7,587.5 V582.4 M419.63,10.75 V14.25 M419.63,363.5 V360 M419.63,363.5 V366.4 M419.63,587.5 V584.6 M469.55,10.75 V17.15 M469.55,363.5 V357.1 M469.55,363.5 V368.6 M469.55,587.5 V582.4 M519.48,10.75 V14.25 M519.48,363.5 V360 M519.48,363.5 V366.4 M519.48,587.5 V584.6 M109.9,32.46 H116.5 M538.6,32.46 H532 M109.9,64.53 H113.5 M538.6,64.53 H535 M109.9,96.6 H116.5 M538.6,96.6 H532 M109.9,128.67 H113.5 M538.6,128.67 H535 M109.9,160.74 H116.5 M538.6,160.74 H532 M109.9,192.81 H113.5 M538.6,192.81 H535 M109.9,224.88 H116.5 M538.6,224.88 H532 M109.9,256.95 H113.5 M538.6,256.95 H535 M109.9,289.02 H116.5 M538.6,289.02 H532 M109.9,321.09 H113.5 M538.6,321.09 H535 M109.9,353.16 H116.5 M538.6,353.16 H532 M109.9,388.74 H115.1 M538.6,388.74 H533.4 M109.9,419.77 H112.8 M538.6,419.77 H535.7 M109.9,450.8 H115.1 M538.6,450.8 H533.4 M109.9,481.83 H112.8 M538.6,481.83 H535.7 M109.9,512.87 H115.1 M538.6,512.87 H533.4 M109.9,543.9 H112.8 M538.6,543.9 H535.7 M109.9,574.93 H115.1 M538.6,574.93 H533.4" stroke="#2b2b2b" stroke-width="1.4" fill="none"/>
<g font-family="Liberation Sans" font-size="25" fill="#000"><text x="102.4" y="38.96" text-anchor="end">3</text><text x="102.4" y="103.1" text-anchor="end">0</text><text x="102.4" y="167.24" text-anchor="end">-3</text><text x="102.4" y="231.38" text-anchor="end">-6</text><text x="102.4" y="295.52" text-anchor="end">-9</text><text x="102.4" y="359.66" text-anchor="end">-12</text><text x="104" y="395.63" text-anchor="end">0.5</text><text x="104" y="457.7" text-anchor="end">0.0</text><text x="104" y="519.76" text-anchor="end">-0.5</text><text x="104" y="581.83" text-anchor="end">-1.0</text><text x="169.4" y="613" text-anchor="middle">0.2</text><text x="269.25" y="613" text-anchor="middle">0.3</text><text x="369.1" y="613" text-anchor="middle">0.4</text><text x="468.95" y="613" text-anchor="middle">0.5</text></g>
<text x="0" y="0" transform="translate(121.4,44.2) scale(0.93,1.02)" font-family="Liberation Sans" font-size="25" fill="#000">A</text>
<text x="121.5" y="393" font-family="Liberation Sans" font-size="25" fill="#000">B</text>
<g font-family="Liberation Sans" font-size="22.7" fill="#000"><text x="406.2" y="236.2" transform="matrix(1 0 0 1.05 0 -11.81)">Glycerol</text><text x="406.2" y="264.3" transform="matrix(1 0 0 1.05 0 -13.22)">Stickel et al.</text><text x="406.2" y="292.4" transform="matrix(1 0 0 1.05 0 -14.62)">MYEGA</text><text x="406.2" y="320.6" transform="matrix(1 0 0 1.05 0 -16.03)">VFT</text><text x="406.2" y="348.8" transform="matrix(1 0 0 1.05 0 -17.44)">VFT2</text></g>
<rect x="368.9" y="251.5" width="10.2" height="10.2" fill="#fff" stroke="#333" stroke-width="1.3"/>
<line x1="347" y1="284.9" x2="401" y2="284.9" stroke="#0000ff" stroke-width="3.6"/>
<line x1="347" y1="312.9" x2="401" y2="312.9" stroke="#ff0000" stroke-width="3.6"/>
<line x1="347" y1="341.5" x2="401" y2="341.5" stroke="#000" stroke-width="2.7"/>
<g transform="rotate(-90)" font-family="Liberation Sans" fill="#000"><text x="-248.66" y="40" font-size="28.8">l</text><text x="-241.46" y="40" font-size="28.8">o</text><text x="-224.94" y="40" font-size="28.8">g</text><text x="-208.1" y="40" font-size="28.8">(</text><text x="-196.21" y="40" font-size="24">τ</text><text x="-184.88" y="52.7" font-size="15.5">α</text><text x="-174.7" y="40" font-size="28.8">/</text><text x="-165.78" y="40" font-size="28.8">s</text><text x="-150.39" y="40" font-size="28.8">)</text></g>
<g transform="rotate(-90)" font-family="Liberation Sans" fill="#000"><text x="-629.59" y="36.7" font-size="25">Δ</text><text x="-613.52" y="36.7" font-size="26.5">[</text><text x="-605.19" y="36.7" font-size="25">Δ</text><text x="-588.5" y="36.7" font-size="26.5">l</text><text x="-582.39" y="36.7" font-size="26.5">n</text><text x="-567.11" y="36.7" font-size="26.5">(</text><text x="-553.57" y="36.7" font-size="25" font-style="italic">τ</text><text x="-544.39" y="47.3" font-size="13.5" font-style="italic">α</text><text x="-535.47" y="36.7" font-size="26.5">)</text><text x="-527.03" y="36.7" font-size="26.5">/</text><text x="-519.89" y="36.7" font-size="25">Δ</text><text x="-503.81" y="36.7" font-size="26.5">(</text><text x="-494.87" y="36.7" font-size="26.5" font-style="italic">T</text><text x="-476.92" y="48" font-size="13.5" font-style="italic">c</text><text x="-469.63" y="36.7" font-size="26.5">/</text><text x="-463.17" y="36.7" font-size="26.5" font-style="italic">T</text><text x="-444.32" y="36.7" font-size="26.5">)</text><text x="-434.44" y="36.7" font-size="26.5">]</text><text x="-427.78" y="22" font-size="15.2">-</text><text x="-422.13" y="22" font-size="15.2">1</text><text x="-412.91" y="22" font-size="15.2">/</text><text x="-408.23" y="22" font-size="15.2">3</text><text x="-393.16" y="36.7" font-size="26.5">(</text><text x="-383.13" y="36.7" font-size="26.5">x</text><text x="-370.43" y="36.7" font-size="26.5">1</text><text x="-355.22" y="36.7" font-size="26.5">0</text><text x="-339.32" y="36.7" font-size="26.5">0</text><text x="-320.82" y="36.7" font-size="26.5">)</text></g>
<g font-family="Liberation Sans" fill="#000"><text x="291.56" y="646.1" font-size="28.8" font-style="italic">T</text><text x="309.38" y="656.2" font-size="16" font-style="italic">c</text><text x="325.28" y="646.1" font-size="27.5">/</text><text x="332.86" y="646.1" font-size="28.8" font-style="italic">T</text></g>
</svg>
</body></html>
